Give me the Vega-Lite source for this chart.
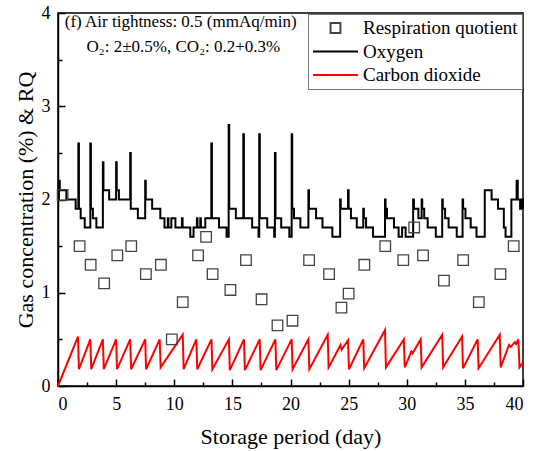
{
  "$schema": "https://vega.github.io/schema/vega-lite/v6.json",
  "width": 465,
  "height": 373,
  "autosize": {"type": "none"},
  "padding": {"left": 58, "top": 13, "right": 17, "bottom": 65},
  "background": "white",
  "config": {
    "view": {"stroke": "black", "strokeWidth": 1.5},
    "font": "Liberation Serif",
    "axis": {
      "grid": false,
      "domainColor": "black",
      "domainWidth": 1.5,
      "tickColor": "black",
      "tickWidth": 1.5,
      "labelColor": "black",
      "titleColor": "black",
      "labelFont": "Liberation Serif",
      "titleFont": "Liberation Serif",
      "labelFontSize": 18,
      "titleFontSize": 22,
      "titleFontWeight": "normal"
    },
    "legend": {
      "orient": "top-right",
      "offset": 1,
      "padding": 4,
      "strokeColor": "#777",
      "fillColor": "white",
      "labelFont": "Liberation Serif",
      "labelFontSize": 19,
      "labelColor": "black",
      "labelOffset": 4,
      "symbolSize": 2025,
      "symbolStrokeWidth": 2,
      "clipHeight": 20,
      "rowPadding": 3.5
    }
  },
  "datasets": {
    "o2": [
      {"day":0,"v":2.0},{"day":0.08,"v":2.2},{"day":0.15,"v":2.1},{"day":0.72,"v":2.0},{"day":1.52,"v":1.9},{"day":1.75,"v":2.6},{"day":1.8,"v":1.9},{"day":1.95,"v":1.8},{"day":2.3,"v":1.7},{"day":2.78,"v":2.6},{"day":2.83,"v":1.9},{"day":3.0,"v":1.8},{"day":3.3,"v":1.7},{"day":3.86,"v":2.4},{"day":3.91,"v":2.1},{"day":4.4,"v":2.0},{"day":5.0,"v":2.4},{"day":5.05,"v":2.1},{"day":5.24,"v":2.0},{"day":6.21,"v":2.5},{"day":6.26,"v":1.9},{"day":6.87,"v":1.8},{"day":7.5,"v":2.2},{"day":7.55,"v":2.0},{"day":8.1,"v":1.9},{"day":8.8,"v":1.8},{"day":9.16,"v":1.7},{"day":9.45,"v":1.8},{"day":9.5,"v":1.7},{"day":9.75,"v":1.8},{"day":10.1,"v":1.7},{"day":10.66,"v":1.8},{"day":10.72,"v":1.7},{"day":11.38,"v":1.6},{"day":11.66,"v":1.7},{"day":11.95,"v":1.8},{"day":12.0,"v":1.7},{"day":12.24,"v":1.8},{"day":12.29,"v":1.7},{"day":12.67,"v":1.8},{"day":13.19,"v":2.6},{"day":13.24,"v":1.8},{"day":13.85,"v":1.7},{"day":14.5,"v":1.6},{"day":14.68,"v":2.8},{"day":14.73,"v":1.9},{"day":15.3,"v":1.8},{"day":15.94,"v":2.7},{"day":15.99,"v":1.8},{"day":16.7,"v":1.7},{"day":17.25,"v":1.6},{"day":17.31,"v":2.7},{"day":17.36,"v":1.8},{"day":18.0,"v":1.7},{"day":18.6,"v":1.6},{"day":18.66,"v":2.5},{"day":18.71,"v":1.8},{"day":19.2,"v":1.7},{"day":19.9,"v":1.6},{"day":20.1,"v":2.7},{"day":20.15,"v":1.9},{"day":20.3,"v":1.8},{"day":20.85,"v":1.7},{"day":21.54,"v":2.1},{"day":21.59,"v":1.9},{"day":22.2,"v":1.8},{"day":22.75,"v":1.7},{"day":23.6,"v":1.6},{"day":24.27,"v":2.0},{"day":24.32,"v":1.9},{"day":24.95,"v":2.1},{"day":25.0,"v":1.9},{"day":25.2,"v":1.8},{"day":25.7,"v":1.7},{"day":26.26,"v":1.9},{"day":26.31,"v":1.8},{"day":26.5,"v":1.7},{"day":27.1,"v":1.6},{"day":28.13,"v":2.0},{"day":28.18,"v":1.9},{"day":28.3,"v":1.8},{"day":28.9,"v":1.7},{"day":29.3,"v":1.6},{"day":29.6,"v":1.7},{"day":29.9,"v":1.6},{"day":30.55,"v":2.0},{"day":30.62,"v":1.9},{"day":31.0,"v":1.8},{"day":31.28,"v":2.0},{"day":31.33,"v":1.9},{"day":31.5,"v":1.8},{"day":31.8,"v":1.7},{"day":32.5,"v":1.6},{"day":33.05,"v":2.0},{"day":33.1,"v":1.9},{"day":33.3,"v":1.8},{"day":33.6,"v":1.7},{"day":34.3,"v":1.6},{"day":34.8,"v":2.0},{"day":34.85,"v":1.9},{"day":35.05,"v":1.8},{"day":35.5,"v":1.7},{"day":36.0,"v":1.6},{"day":36.71,"v":2.1},{"day":37.3,"v":2.0},{"day":37.85,"v":1.9},{"day":38.35,"v":1.7},{"day":38.5,"v":1.6},{"day":39.0,"v":2.0},{"day":39.45,"v":2.2},{"day":39.55,"v":2.0},{"day":39.75,"v":1.9},{"day":39.85,"v":2.0},{"day":40.0,"v":1.9}
    ],
    "co2": [
      {"day":0,"v":0.0},{"day":1.72,"v":0.53},{"day":1.8,"v":0.18},{"day":2.78,"v":0.5},{"day":2.86,"v":0.18},{"day":3.86,"v":0.5},{"day":3.94,"v":0.18},{"day":5.0,"v":0.5},{"day":5.08,"v":0.18},{"day":6.21,"v":0.5},{"day":6.29,"v":0.18},{"day":7.5,"v":0.5},{"day":7.58,"v":0.18},{"day":8.75,"v":0.5},{"day":8.83,"v":0.2},{"day":10.73,"v":0.55},{"day":10.81,"v":0.18},{"day":11.9,"v":0.5},{"day":11.98,"v":0.18},{"day":13.2,"v":0.5},{"day":13.28,"v":0.18},{"day":14.7,"v":0.5},{"day":14.78,"v":0.17},{"day":16.0,"v":0.5},{"day":16.08,"v":0.17},{"day":17.35,"v":0.5},{"day":17.43,"v":0.17},{"day":18.7,"v":0.5},{"day":18.78,"v":0.17},{"day":20.1,"v":0.5},{"day":20.18,"v":0.18},{"day":21.54,"v":0.5},{"day":21.62,"v":0.18},{"day":23.2,"v":0.55},{"day":23.28,"v":0.2},{"day":24.3,"v":0.44},{"day":24.4,"v":0.39},{"day":24.95,"v":0.49},{"day":25.03,"v":0.18},{"day":26.26,"v":0.5},{"day":26.34,"v":0.19},{"day":28.13,"v":0.6},{"day":28.21,"v":0.2},{"day":29.75,"v":0.5},{"day":29.83,"v":0.2},{"day":30.4,"v":0.37},{"day":30.5,"v":0.35},{"day":31.2,"v":0.5},{"day":31.28,"v":0.2},{"day":33.05,"v":0.55},{"day":33.13,"v":0.2},{"day":34.76,"v":0.53},{"day":34.84,"v":0.19},{"day":36.1,"v":0.5},{"day":36.18,"v":0.19},{"day":38.0,"v":0.55},{"day":38.08,"v":0.2},{"day":38.8,"v":0.44},{"day":38.95,"v":0.42},{"day":39.3,"v":0.47},{"day":39.4,"v":0.45},{"day":39.6,"v":0.5},{"day":39.7,"v":0.2},{"day":40.0,"v":0.25}
    ],
    "rq": [
      {"day":0.4,"v":2.05},{"day":1.86,"v":1.5},{"day":2.81,"v":1.3},{"day":3.97,"v":1.1},{"day":5.1,"v":1.4},{"day":6.3,"v":1.5},{"day":7.56,"v":1.2},{"day":8.85,"v":1.3},{"day":9.79,"v":0.5},{"day":10.73,"v":0.9},{"day":12.05,"v":1.4},{"day":12.74,"v":1.6},{"day":13.3,"v":1.2},{"day":14.83,"v":1.03},{"day":16.17,"v":1.35},{"day":17.51,"v":0.93},{"day":18.88,"v":0.65},{"day":20.17,"v":0.7},{"day":21.6,"v":1.35},{"day":23.32,"v":1.2},{"day":24.38,"v":0.84},{"day":25.0,"v":0.99},{"day":26.35,"v":1.3},{"day":28.15,"v":1.5},{"day":29.7,"v":1.35},{"day":30.64,"v":1.7},{"day":31.4,"v":1.4},{"day":33.2,"v":1.13},{"day":34.85,"v":1.35},{"day":36.2,"v":0.9},{"day":38.06,"v":1.2},{"day":39.2,"v":1.5}
    ],
    "notes": [
      {"day":0.58,"v":3.9,"t":"(f) Air tightness: 0.5 (mmAq/min)"},
      {"day":2.46,"v":3.64,"t":"O₂: 2±0.5%, CO₂: 0.2+0.3%"}
    ]
  },
  "resolve": {"axis": {"x": "independent", "y": "independent"}},
  "layer": [
    {
      "data": {"name": "co2"},
      "mark": {"type": "line", "strokeWidth": 2},
      "encoding": {
        "x": {"field": "day", "type": "quantitative", "scale": {"domain": [0, 40], "nice": false},
              "axis": {"orient": "bottom", "values": [2.5,7.5,12.5,17.5,22.5,27.5,32.5,37.5], "tickSize": -4, "labels": false, "domain": false, "title": null}},
        "y": {"field": "v", "type": "quantitative", "scale": {"domain": [0, 4], "nice": false},
              "axis": {"orient": "left", "values": [0.5,1.5,2.5,3.5], "tickSize": -4, "labels": false, "domain": false, "title": null}},
        "color": {"datum": "Carbon dioxide", "type": "nominal",
                  "scale": {"domain": ["Respiration quotient", "Oxygen", "Carbon dioxide"], "range": ["#444444", "#000000", "#ff0000"]},
                  "legend": {"title": null}}
      }
    },
    {
      "data": {"name": "o2"},
      "mark": {"type": "line", "strokeWidth": 2, "interpolate": "step-after"},
      "encoding": {
        "x": {"field": "day", "type": "quantitative",
              "axis": {"orient": "bottom", "values": [0,5,10,15,20,25,30,35,40], "tickSize": -7, "labelPadding": 16, "title": "Storage period (day)", "titlePadding": 13}},
        "y": {"field": "v", "type": "quantitative",
              "axis": {"orient": "left", "values": [0,1,2,3,4], "tickSize": -7, "labelPadding": 15, "title": "Gas concentration (%) & RQ", "titlePadding": 4}},
        "color": {"datum": "Oxygen", "type": "nominal"}
      }
    },
    {
      "data": {"name": "rq"},
      "mark": {"type": "point", "filled": false, "size": 2300, "strokeWidth": 1.3, "opacity": 1},
      "encoding": {
        "x": {"field": "day", "type": "quantitative", "axis": null},
        "y": {"field": "v", "type": "quantitative", "axis": null},
        "color": {"datum": "Respiration quotient", "type": "nominal"},
        "shape": {"datum": "Respiration quotient", "type": "nominal",
                  "scale": {"domain": ["Respiration quotient", "Oxygen", "Carbon dioxide"], "range": ["M-0.22,-0.22H0.22V0.22H-0.22Z", "M-1,0H1", "M-1,0H1"]},
                  "legend": {"title": null}}
      }
    },
    {
      "data": {"name": "notes"},
      "mark": {"type": "text", "align": "left", "baseline": "middle", "font": "Liberation Serif", "fontSize": 17, "color": "black"},
      "encoding": {
        "x": {"field": "day", "type": "quantitative", "axis": null},
        "y": {"field": "v", "type": "quantitative", "axis": null},
        "text": {"field": "t"}
      }
    }
  ]
}
